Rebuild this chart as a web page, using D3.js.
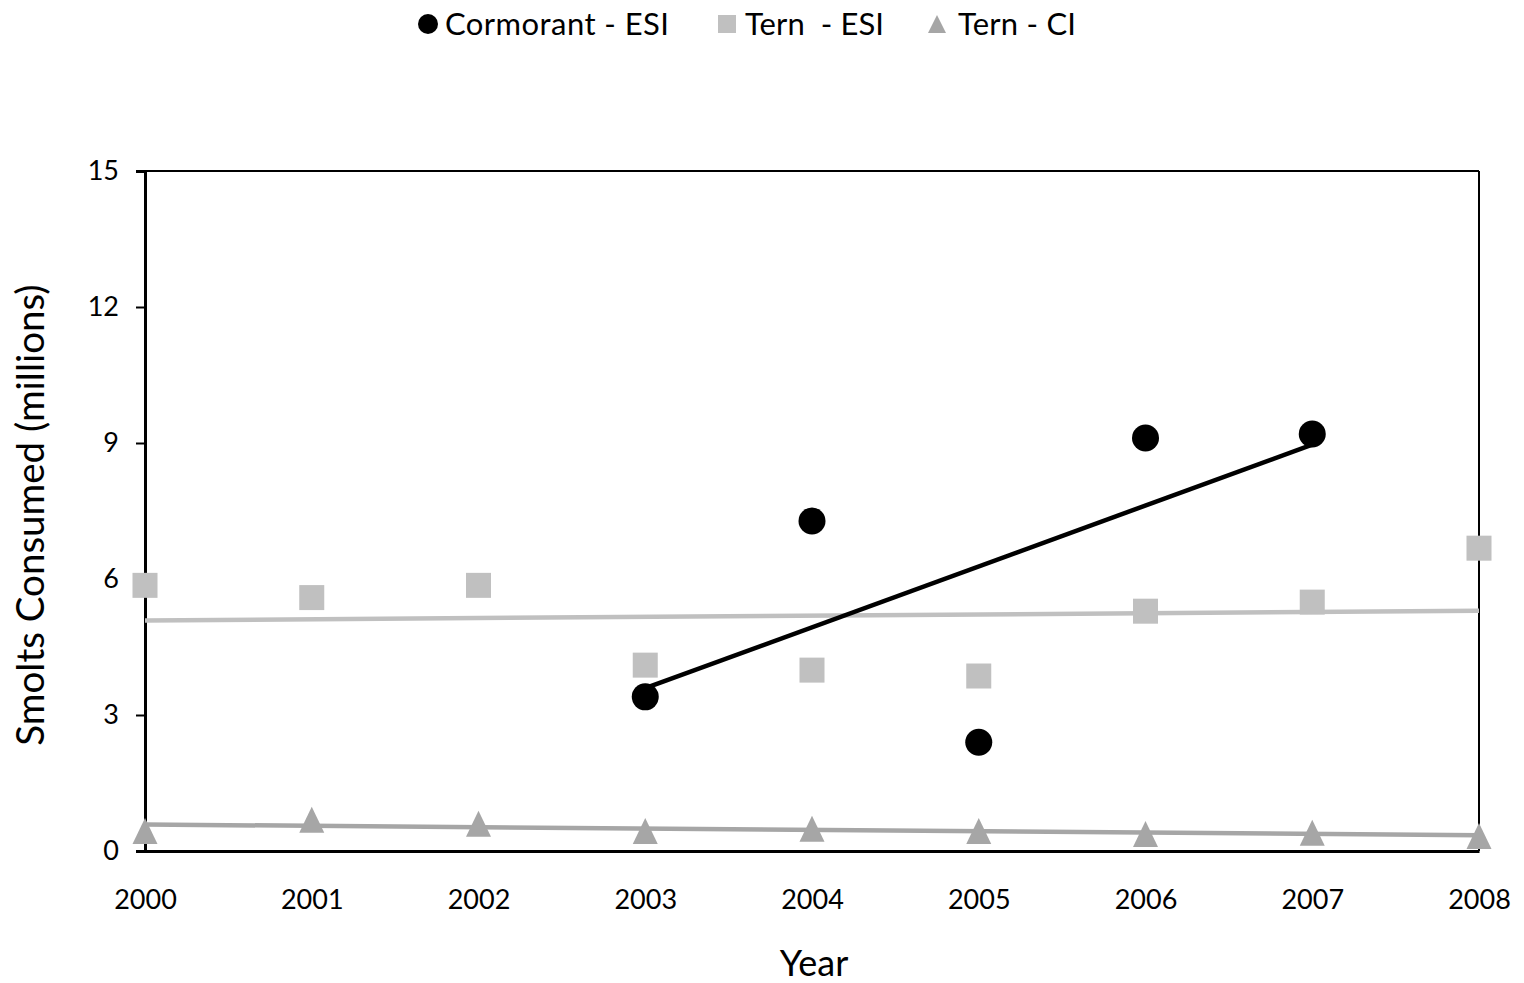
<!DOCTYPE html>
<html>
<head>
<meta charset="utf-8">
<script src="https://cdn.jsdelivr.net/npm/d3@7"></script>
<style>
  html, body { margin: 0; padding: 0; background: #fff; }
  svg { display: block; font-family: Lato, "Open Sans", sans-serif; }
</style>
</head>
<body>
<svg id="chart" width="1524" height="983"></svg>
<script>
// Years on the x axis
const years = [2000, 2001, 2002, 2003, 2004, 2005, 2006, 2007, 2008];

// Smolts consumed (millions) per colony
const cormorantYears = [2003, 2004, 2005, 2006, 2007];
const cormorantESI = [3.40, 7.28, 2.40, 9.11, 9.20];
const ternESI = [5.86, 5.59, 5.86, 4.10, 3.99, 3.86, 5.29, 5.49, 6.68];
const ternCI = [0.44, 0.69, 0.60, 0.44, 0.49, 0.44, 0.375, 0.40, 0.33];

const yTicks = [0, 3, 6, 9, 12, 15];
const legendLabels = ["Cormorant - ESI", "Tern  - ESI", "Tern - CI"];

const svg = d3.select("#chart");
const plotL = 145, plotR = 1479, plotT = 171, plotB = 851;

const x = d3.scaleLinear().domain([2000, 2008]).range([plotL, plotR]);
const y = d3.scaleLinear().domain([0, 15]).range([plotB, plotT]);

const colors = { corm: "#000000", ternESI: "#c0c0c0", ternCI: "#a6a6a6" };

// Least-squares linear fit
function fit(xs, ys) {
  const n = xs.length;
  const mx = d3.mean(xs), my = d3.mean(ys);
  let sxy = 0, sxx = 0;
  for (let i = 0; i < n; i++) {
    sxy += (xs[i] - mx) * (ys[i] - my);
    sxx += (xs[i] - mx) * (xs[i] - mx);
  }
  const b = sxy / sxx;
  return t => my + b * (t - mx);
}

// Plot frame
svg.append("line").attr("x1", plotL).attr("x2", plotR).attr("y1", plotT).attr("y2", plotT)
  .attr("stroke", "#000").attr("stroke-width", 2);
svg.append("line").attr("x1", plotR).attr("x2", plotR).attr("y1", plotT).attr("y2", plotB)
  .attr("stroke", "#000").attr("stroke-width", 2);

// Y axis
const yAxis = d3.axisLeft(y).tickValues(yTicks).tickSize(9).tickPadding(17);
const gy = svg.append("g").attr("transform", `translate(${plotL},0)`).call(yAxis);
gy.select(".domain").attr("stroke", "#000").attr("stroke-width", 3);
gy.selectAll(".tick line").attr("stroke", "#000").attr("stroke-width", 2);
gy.selectAll(".tick text").attr("font-size", 27).attr("font-family", "Lato, sans-serif").attr("fill", "#000");

// X axis (labels only, no tick marks)
const xAxis = d3.axisBottom(x).tickValues(years).tickFormat(d3.format("d")).tickSize(0).tickPadding(39);
const gx = svg.append("g").attr("transform", `translate(0,${plotB})`).call(xAxis);
gx.select(".domain").attr("stroke", "#000").attr("stroke-width", 3);
gx.selectAll(".tick text").attr("font-size", 27).attr("font-family", "Lato, sans-serif").attr("fill", "#000");

// Axis titles
svg.append("text").attr("x", (plotL + plotR) / 2 + 2).attr("y", 976)
  .attr("text-anchor", "middle").attr("font-size", 36).text("Year");
svg.append("text").attr("transform", `translate(44,${(plotT + plotB) / 2 + 4}) rotate(-90)`)
  .attr("text-anchor", "middle").attr("font-size", 38.5).text("Smolts Consumed (millions)");

// Trend lines
const trends = [
  { xs: years, ys: ternCI, color: colors.ternCI, x0: 2000, x1: 2008 },
  { xs: years, ys: ternESI, color: colors.ternESI, x0: 2000, x1: 2008 },
  { xs: cormorantYears, ys: cormorantESI, color: colors.corm, x0: 2003, x1: 2007 }
];
trends.forEach(t => {
  const f = fit(t.xs, t.ys);
  svg.append("line")
    .attr("x1", x(t.x0)).attr("y1", y(f(t.x0)))
    .attr("x2", x(t.x1)).attr("y2", y(f(t.x1)))
    .attr("stroke", t.color).attr("stroke-width", 4.5);
});

// Marker shapes
const tri = (w, h) => `M0,${-h / 2}L${w / 2},${h / 2}L${-w / 2},${h / 2}Z`;

svg.append("g").selectAll("path").data(years.map((yr, i) => [yr, ternCI[i]])).join("path")
  .attr("d", tri(25, 26))
  .attr("transform", d => `translate(${x(d[0])},${y(d[1])})`)
  .attr("fill", colors.ternCI);

svg.append("g").selectAll("rect").data(years.map((yr, i) => [yr, ternESI[i]])).join("rect")
  .attr("x", d => x(d[0]) - 12.5).attr("y", d => y(d[1]) - 12.5)
  .attr("width", 25).attr("height", 25)
  .attr("fill", colors.ternESI);

svg.append("g").selectAll("circle").data(cormorantYears.map((yr, i) => [yr, cormorantESI[i]])).join("circle")
  .attr("cx", d => x(d[0])).attr("cy", d => y(d[1])).attr("r", 13.5)
  .attr("fill", colors.corm);

// Legend
const lg = svg.append("g").attr("font-size", 31);
const ly = 24;
lg.append("circle").attr("cx", 428).attr("cy", ly).attr("r", 10).attr("fill", colors.corm);
lg.append("text").attr("x", 445).attr("y", ly).attr("dy", "0.35em").attr("textLength", 224).text(legendLabels[0]);
lg.append("rect").attr("x", 718).attr("y", ly - 9).attr("width", 18).attr("height", 18).attr("fill", colors.ternESI);
lg.append("text").attr("x", 745).attr("y", ly).attr("dy", "0.35em").attr("textLength", 139)
  .style("white-space", "pre").text(legendLabels[1]);
lg.append("path").attr("d", tri(18, 18)).attr("transform", `translate(937,${ly})`).attr("fill", colors.ternCI);
lg.append("text").attr("x", 958).attr("y", ly).attr("dy", "0.35em").attr("textLength", 118).text(legendLabels[2]);
</script>
</body>
</html>
